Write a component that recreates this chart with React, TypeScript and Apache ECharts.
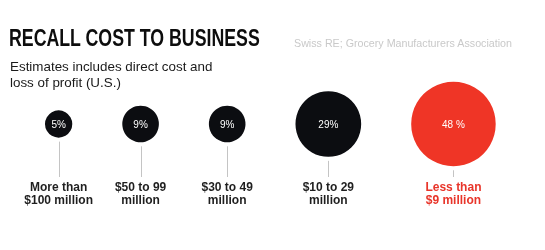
import React, { useEffect, useRef } from "react";
import * as echarts from "echarts";

const categories = ["More than\n$100 million", "$50 to 99\nmillion", "$30 to 49\nmillion", "$10 to 29\nmillion", "Less than\n$9 million"];
const shares = [5, 9, 9, 29, 48];
const pctLabels = ["5%", "9%", "9%", "29%", "48 %"];
const highlight = [false, false, false, false, true];

const K = 6.1; // radius px per sqrt(percent)
const GAP = 50;
const START = 45;
const CY = 124;
const LINE_END = 177;

export default function App() {
  const ref = useRef<HTMLDivElement>(null);
  useEffect(() => {
    if (!ref.current) return;
    const chart = echarts.init(ref.current, null, { renderer: "svg" });
    let edge = START;
    const data = shares.map((v, i) => {
      const r = K * Math.sqrt(v);
      const cx = edge + r;
      edge = cx + r + GAP;
      return [cx, v, i];
    });
    const font = "'Liberation Sans', Arial, sans-serif";
    chart.setOption({
      animation: false,
      grid: { left: 0, right: 0, top: 0, bottom: 0 },
      xAxis: { type: "value", min: 0, max: 545, show: false },
      yAxis: { type: "value", min: 0, max: 250, inverse: true, show: false },
      graphic: [
        {
          type: "text",
          x: 9,
          y: 38,
          scaleX: 0.725,
          style: {
            text: "RECALL COST TO BUSINESS",
            fontFamily: font,
            fontWeight: "bold",
            fontSize: 24.5,
            fill: "#0d0d0d",
            verticalAlign: "middle",
          },
        },
        {
          type: "text",
          x: 294,
          y: 43,
          style: {
            text: "Swiss RE; Grocery Manufacturers Association",
            fontFamily: font,
            fontSize: 10.7,
            fill: "#c9c9c9",
            verticalAlign: "middle",
          },
        },
        {
          type: "text",
          left: 10,
          top: 58,
          style: {
            text: "Estimates includes direct cost and\nloss of profit (U.S.)",
            fontFamily: font,
            fontSize: 13.4,
            lineHeight: 16.5,
            fill: "#1a1a1a",
          },
        },
      ],
      series: [
        {
          type: "custom",
          coordinateSystem: "cartesian2d",
          data,
          renderItem: (params: any, api: any) => {
            const cxv = api.value(0);
            const v = api.value(1);
            const i = api.value(2);
            const [px, py] = api.coord([cxv, CY]);
            const [, lineEnd] = api.coord([cxv, LINE_END]);
            const r = K * Math.sqrt(v);
            const red = highlight[i];
            const fill = red ? "#ef3526" : "#0c0d11";
            return {
              type: "group",
              children: [
                {
                  type: "line",
                  shape: { x1: Math.round(px) + 0.5, y1: py + r + 4, x2: Math.round(px) + 0.5, y2: lineEnd },
                  style: { stroke: "#c4c4c4", lineWidth: 1 },
                },
                {
                  type: "circle",
                  shape: { cx: px, cy: py, r },
                  style: { fill },
                },
                {
                  type: "text",
                  x: px,
                  y: py,
                  style: {
                    text: pctLabels[i],
                    fontFamily: font,
                    fontSize: 10,
                    fill: "#ffffff",
                    align: "center",
                    verticalAlign: "middle",
                  },
                },
                {
                  type: "text",
                  x: px,
                  y: lineEnd + 3,
                  style: {
                    text: categories[i],
                    fontFamily: font,
                    fontSize: 12,
                    fontWeight: "bold",
                    lineHeight: 13.5,
                    fill: red ? "#e8352a" : "#1f1f1f",
                    align: "center",
                    verticalAlign: "top",
                  },
                },
              ],
            };
          },
        },
      ],
    });
    return () => chart.dispose();
  }, []);
  return <div ref={ref} style={{ position: "fixed", left: 0, top: 0, width: 545, height: 250 }} />;
}
